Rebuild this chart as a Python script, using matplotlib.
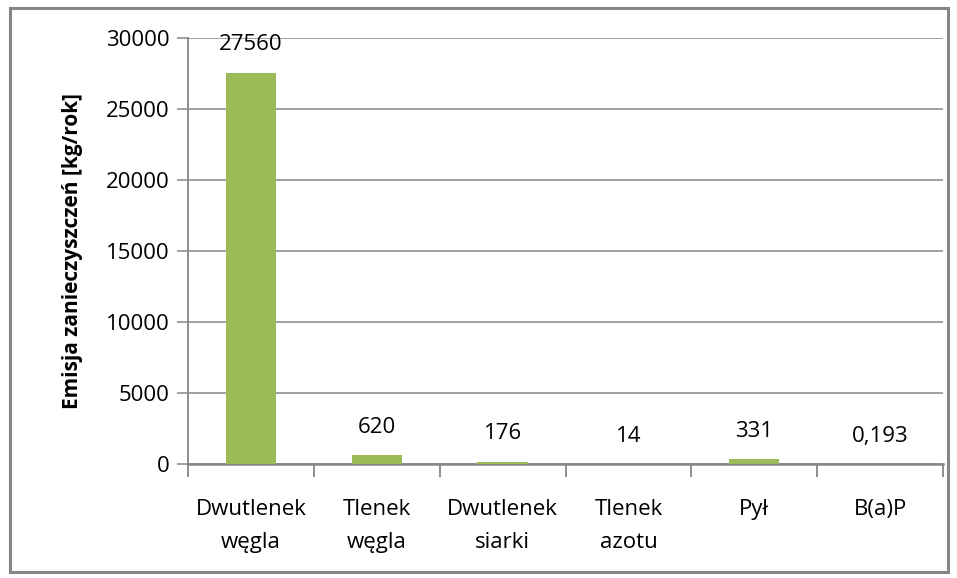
import matplotlib
matplotlib.use("Agg")
import matplotlib.pyplot as plt
from matplotlib.patches import Rectangle

categories = ["Dwutlenek\nwęgla", "Tlenek\nwęgla", "Dwutlenek\nsiarki", "Tlenek\nazotu", "Pył", "B(a)P"]
values = [27560, 620, 176, 14, 331, 0.193]
value_labels = ["27560", "620", "176", "14", "331", "0,193"]
yticks = [0, 5000, 10000, 15000, 20000, 25000, 30000]

plt.rcParams['font.family'] = ['Open Sans', 'DejaVu Sans']
FS = 16

W, H = 957, 578
fig = plt.figure(figsize=(W / 100, H / 100), dpi=100)
fig.patch.set_facecolor("white")
fig.add_artist(Rectangle((10 / W, 1 - 572 / H), 938 / W, 564 / H, transform=fig.transFigure,
                         fill=False, edgecolor="#868686", linewidth=2.2))

left, right, top, bottom = 188, 943, 38, 464
ax = fig.add_axes([left / W, 1 - bottom / H, (right - left) / W, (bottom - top) / H])

x = list(range(len(categories)))
ax.bar(x, values, width=0.4, color="#9BBB59", zorder=3)
ax.set_xlim(-0.5, len(categories) - 0.5)
ax.set_ylim(0, 30000)
ax.set_yticks(yticks)
ax.set_yticklabels([str(v) for v in yticks], fontsize=FS, color="#000000")
ax.yaxis.grid(True, color="#868686", linewidth=1.1, zorder=0)
ax.set_axisbelow(True)

ax.set_xticks([i - 0.5 for i in range(len(categories) + 1)])
ax.set_xticklabels([])
ax.set_xticks(x, minor=True)
ax.set_xticklabels(categories, minor=True, fontsize=FS, linespacing=1.75, va="top")
ax.tick_params(axis="x", which="minor", length=0, pad=25)
ax.tick_params(axis="x", which="major", length=9, width=1.3, color="#868686", direction="out")
ax.tick_params(axis="y", length=8, width=1.1, color="#868686", pad=5)

for s in ["top", "right"]:
    ax.spines[s].set_visible(False)
ax.spines["left"].set_color("#868686")
ax.spines["left"].set_linewidth(1.3)
ax.spines["bottom"].set_color("#868686")
ax.spines["bottom"].set_linewidth(1.8)

for xi, v, lab in zip(x, values, value_labels):
    ax.annotate(lab, (xi, v), xytext=(0, 20), textcoords="offset points",
                ha="center", va="center", fontsize=FS, annotation_clip=False)

ax.set_ylabel("Emisja zanieczyszczeń [kg/rok]", fontsize=15, fontweight="bold", labelpad=17)

fig.savefig("out.png", dpi=100)
